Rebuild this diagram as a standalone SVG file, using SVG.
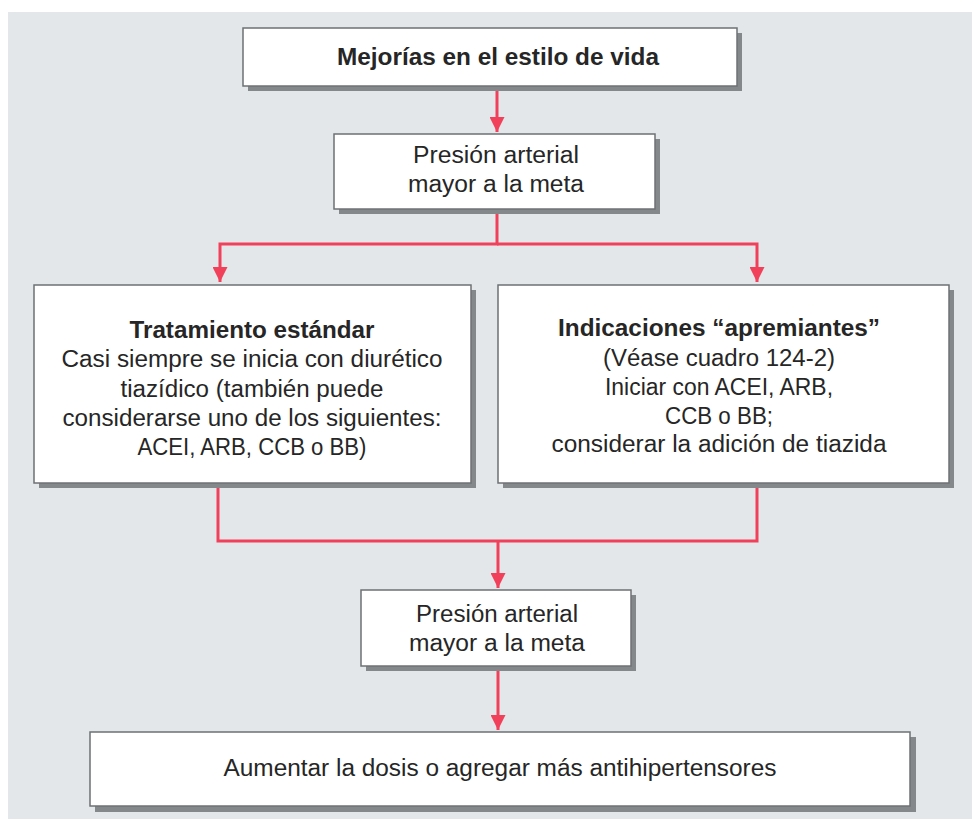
<svg xmlns="http://www.w3.org/2000/svg" width="972" height="819" viewBox="0 0 972 819">
<defs>
<marker id="ah" viewBox="0 0 10 10" refX="10" refY="5" markerWidth="5" markerHeight="5" markerUnits="strokeWidth" orient="auto">
<path d="M0,0 L10,5 L0,10 z" fill="#f1405a"/>
</marker>
<style>
.bg{fill:#e3e7ea}
.sh{fill:#85888b}
.box{fill:#ffffff;stroke:#6e7174;stroke-width:1.5}
.t{font-family:"Liberation Sans",Arial,sans-serif;font-size:23px;fill:#262626;text-anchor:middle}
.b{font-weight:bold}
.c{fill:none;stroke:#f1405a;stroke-width:3}
</style>
</defs>
<rect x="0" y="0" width="972" height="819" fill="#ffffff"/>
<rect class="bg" x="8" y="12" width="964" height="807"/>
<g id="connectors">
<path class="c" d="M497,86 V132" marker-end="url(#ah)"/>
<path class="c" d="M497,209 V244 H220 V282" marker-end="url(#ah)"/>
<path class="c" d="M497,244 H757 V282" marker-end="url(#ah)"/>
<path class="c" d="M218,483 V541 H757 V483"/>
<path class="c" d="M498,541 V588" marker-end="url(#ah)"/>
<path class="c" d="M498,666 V730" marker-end="url(#ah)"/>
</g>
<g id="n1">
<rect class="sh" x="248" y="33" width="494" height="58"/>
<rect class="box" x="243" y="28" width="494" height="58"/>
<text class="t b" x="498" y="65" textLength="322" lengthAdjust="spacingAndGlyphs">Mejorías en el estilo de vida</text>
</g>
<g id="n2">
<rect class="sh" x="339" y="139" width="321" height="75"/>
<rect class="box" x="334" y="134" width="321" height="75"/>
<text class="t" x="496" y="163" textLength="166" lengthAdjust="spacingAndGlyphs">Presión arterial</text>
<text class="t" x="496" y="192" textLength="176" lengthAdjust="spacingAndGlyphs">mayor a la meta</text>
</g>
<g id="n3">
<rect class="sh" x="39" y="290" width="437" height="198"/>
<rect class="box" x="34" y="285" width="437" height="198"/>
<text class="t b" x="252" y="338" textLength="245" lengthAdjust="spacingAndGlyphs">Tratamiento estándar</text>
<text class="t" x="252" y="367" textLength="381" lengthAdjust="spacingAndGlyphs">Casi siempre se inicia con diurético</text>
<text class="t" x="252" y="397" textLength="263" lengthAdjust="spacingAndGlyphs">tiazídico (también puede</text>
<text class="t" x="252" y="426" textLength="379" lengthAdjust="spacingAndGlyphs">considerarse uno de los siguientes:</text>
<text class="t" x="252" y="455" textLength="229" lengthAdjust="spacingAndGlyphs">ACEI, ARB, CCB o BB)</text>
</g>
<g id="n4">
<rect class="sh" x="503" y="290" width="451" height="198"/>
<rect class="box" x="498" y="285" width="451" height="198"/>
<text class="t b" x="719" y="336" textLength="322" lengthAdjust="spacingAndGlyphs">Indicaciones “apremiantes”</text>
<text class="t" x="719" y="366" textLength="232" lengthAdjust="spacingAndGlyphs">(Véase cuadro 124-2)</text>
<text class="t" x="719" y="395" textLength="228" lengthAdjust="spacingAndGlyphs">Iniciar con ACEI, ARB,</text>
<text class="t" x="719" y="424" textLength="108" lengthAdjust="spacingAndGlyphs">CCB o BB;</text>
<text class="t" x="719" y="452" textLength="335" lengthAdjust="spacingAndGlyphs">considerar la adición de tiazida</text>
</g>
<g id="n5">
<rect class="sh" x="366" y="595" width="270" height="76"/>
<rect class="box" x="361" y="590" width="270" height="76"/>
<text class="t" x="497" y="622" textLength="162" lengthAdjust="spacingAndGlyphs">Presión arterial</text>
<text class="t" x="497" y="651" textLength="176" lengthAdjust="spacingAndGlyphs">mayor a la meta</text>
</g>
<g id="n6">
<rect class="sh" x="95" y="737" width="821" height="75"/>
<rect class="box" x="90" y="732" width="820" height="74"/>
<text class="t" x="500" y="776" textLength="553" lengthAdjust="spacingAndGlyphs">Aumentar la dosis o agregar más antihipertensores</text>
</g>
</svg>
